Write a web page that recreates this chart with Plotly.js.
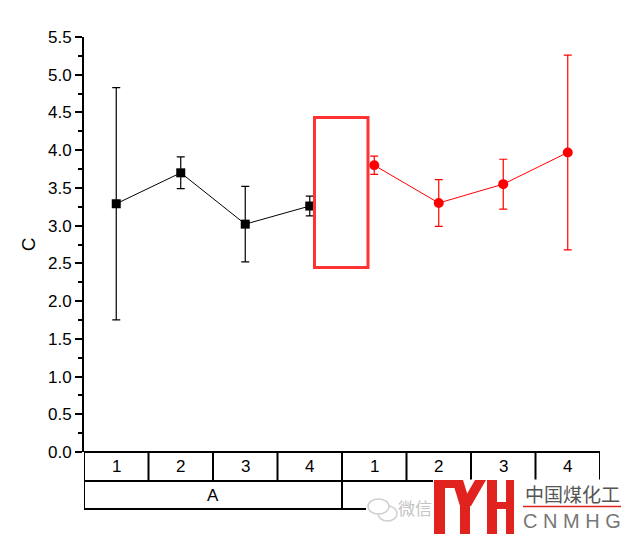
<!DOCTYPE html>
<html>
<head>
<meta charset="utf-8">
<script src="https://cdn.plot.ly/plotly-3.0.1.min.js"></script>
<style>html,body{margin:0;padding:0;background:#fff;}#chart{width:626px;height:540px;}</style>
</head>
<body>
<div id="chart"></div>
<script>
// ---- data ----
const categories = ['1', '2', '3', '4', '1', '2', '3', '4'];
const groups = ['A', ''];   // second group label is hidden under the watermark in the source
const meanA = [3.29, 3.70, 3.02, 3.26];
const errA  = [1.54, 0.21, 0.50, 0.13];
const meanB = [3.80, 3.30, 3.55, 3.97];
const errB  = [0.12, 0.31, 0.33, 1.29];
const yTitle = 'C';

// ---- helpers (pixel -> paper for decorations) ----
const L = 84, R = 26, T = 37, B = 88, WIDTH = 626, HEIGHT = 540;
const PW = WIDTH - L - R, PH = HEIGHT - T - B;
const X = px => (px - L) / PW;
const Y = py => (HEIGHT - B - py) / PH;
const FONT = 'Liberation Sans, Arial, sans-serif';
const FS = 17;

const xA = meanA.map((_, i) => i + 1);
const xB = meanB.map((_, i) => i + 1 + meanA.length);

const traces = [
  {
    x: xA, y: meanA, type: 'scatter', mode: 'lines+markers',
    line: {color: '#000000', width: 1},
    marker: {symbol: 'square', size: 9, color: '#000000'},
    error_y: {type: 'data', array: errA, visible: true, color: '#000000', thickness: 1.2, width: 4},
    hoverinfo: 'none', showlegend: false
  },
  {
    x: xB, y: meanB, type: 'scatter', mode: 'lines+markers',
    line: {color: '#ff0000', width: 1},
    marker: {symbol: 'circle', size: 10, color: '#ff0000'},
    error_y: {type: 'data', array: errB, visible: true, color: '#ff0000', thickness: 1.2, width: 4},
    hoverinfo: 'none', showlegend: false
  }
];

const nCat = categories.length;
const row1 = Y(481), row2 = Y(509);
const shapes = [];
const annotations = [];
const lineStyle = {color: '#000000', width: 2};

// table horizontal lines
[0, row1, row2].forEach(yy => shapes.push({type: 'line', xref: 'x', yref: 'paper', x0: 0.5, x1: nCat + 0.5, y0: yy, y1: yy, line: lineStyle, layer: 'above'}));
// row 1 separators
for (let i = 0; i <= nCat; i++) {
  shapes.push({type: 'line', xref: 'x', yref: 'paper', x0: i + 0.5, x1: i + 0.5, y0: 0, y1: row1, line: lineStyle, layer: 'above'});
}
// row 2 separators
const perGroup = nCat / groups.length;
for (let g = 0; g <= groups.length; g++) {
  const xx = g * perGroup + 0.5;
  shapes.push({type: 'line', xref: 'x', yref: 'paper', x0: xx, x1: xx, y0: row1, y1: row2, line: lineStyle, layer: 'above'});
}
// labels
categories.forEach((c, i) => annotations.push({
  x: i + 1, y: (0 + row1) / 2, xref: 'x', yref: 'paper', text: c, showarrow: false,
  font: {family: FONT, size: FS, color: '#000'}, yanchor: 'middle'
}));
groups.forEach((g, k) => { if (g) annotations.push({
  x: k * perGroup + (perGroup + 1) / 2, y: (row1 + row2) / 2, xref: 'x', yref: 'paper', text: g, showarrow: false,
  font: {family: FONT, size: FS, color: '#000'}, yanchor: 'middle'
}); });

// red highlight box (covers gap between groups)
shapes.push({type: 'rect', xref: 'paper', yref: 'paper', x0: X(314.5), x1: X(368), y0: Y(117.5), y1: Y(267.5),
  line: {color: '#ff3333', width: 3}, fillcolor: '#ffffff', layer: 'above'});

// watermark background
shapes.push({type: 'rect', xref: 'paper', yref: 'paper', x0: X(366), x1: X(626), y0: Y(497), y1: Y(540), line: {width: 0}, fillcolor: '#ffffff', layer: 'above'});
shapes.push({type: 'rect', xref: 'paper', yref: 'paper', x0: X(433), x1: X(626), y0: Y(479.5), y1: Y(540), line: {width: 0}, fillcolor: '#ffffff', layer: 'above'});
// wechat icon
shapes.push({type: 'circle', xref: 'paper', yref: 'paper', x0: X(378), x1: X(397), y0: Y(506), y1: Y(521), line: {color: '#cfcfcf', width: 1.5}, fillcolor: '#ffffff', layer: 'above'});
shapes.push({type: 'circle', xref: 'paper', yref: 'paper', x0: X(368), x1: X(389), y0: Y(499), y1: Y(514), line: {color: '#cfcfcf', width: 1.5}, fillcolor: '#ffffff', layer: 'above'});

// logo (MH)
const red = '#e0231f';
function poly(pts) {
  return 'M' + pts.map(p => X(p[0]).toFixed(5) + ',' + Y(p[1]).toFixed(5)).join(' L') + ' Z';
}
const logoPolys = [
  [[434, 480], [445, 480], [445, 534], [434, 534]],
  [[434, 480], [462, 480], [462, 488], [434, 488]],
  [[452, 480], [463, 480], [471, 506], [460, 506]],
  [[475, 480], [486, 480], [471, 506], [460, 506]],
  [[460, 503], [470, 503], [470, 534], [460, 534]],
  [[487, 480], [497, 480], [497, 534], [487, 534]],
  [[506, 480], [514, 480], [514, 534], [506, 534]],
  [[487, 502], [514, 502], [514, 509], [487, 509]]
];
logoPolys.forEach(p => shapes.push({type: 'path', xref: 'paper', yref: 'paper', path: poly(p), fillcolor: red, line: {width: 0}, layer: 'above'}));
shapes.push({type: 'line', xref: 'paper', yref: 'paper', x0: X(523), x1: X(621), y0: Y(506.5), y1: Y(506.5), line: {color: red, width: 1.5}, layer: 'above'});

annotations.push({x: X(434), y: Y(507), xref: 'paper', yref: 'paper', xanchor: 'right', yanchor: 'middle', showarrow: false,
  text: '微信', font: {family: 'Noto Sans CJK SC', size: 17, color: '#c4c4c4'}});
annotations.push({x: X(572), y: Y(493), xref: 'paper', yref: 'paper', xanchor: 'center', yanchor: 'middle', showarrow: false,
  text: '中国煤化工', font: {family: 'Noto Sans CJK SC', size: 19, color: '#555555'}});
annotations.push({x: X(572), y: Y(520.5), xref: 'paper', yref: 'paper', xanchor: 'center', yanchor: 'middle', showarrow: false,
  text: 'C N M H G', font: {family: FONT, size: 20, color: '#777777'}});

const layout = {
  width: WIDTH, height: HEIGHT,
  margin: {l: L, r: R, t: T, b: B, pad: 0},
  paper_bgcolor: '#ffffff', plot_bgcolor: '#ffffff',
  showlegend: false,
  font: {family: FONT, color: '#000'},
  xaxis: {range: [0.5, nCat + 0.5], showline: false, showticklabels: false, ticks: '', showgrid: false, zeroline: false, fixedrange: true},
  yaxis: {
    range: [0, 5.5], dtick: 0.5, tick0: 0, tickformat: '.1f',
    ticks: 'outside', ticklen: 7, tickwidth: 2, tickcolor: '#000',
    showline: true, linewidth: 2, linecolor: '#000',
    minor: {dtick: 0.25, ticks: 'outside', ticklen: 4, tickwidth: 2, tickcolor: '#000', showgrid: false},
    showgrid: false, zeroline: false, fixedrange: true,
    tickfont: {family: FONT, size: FS, color: '#000'},
    title: {text: yTitle, font: {family: FONT, size: 19, color: '#000'}, standoff: 7}
  },
  shapes: shapes,
  annotations: annotations
};

Plotly.newPlot('chart', traces, layout, {staticPlot: true, displayModeBar: false});
</script>
</body>
</html>
